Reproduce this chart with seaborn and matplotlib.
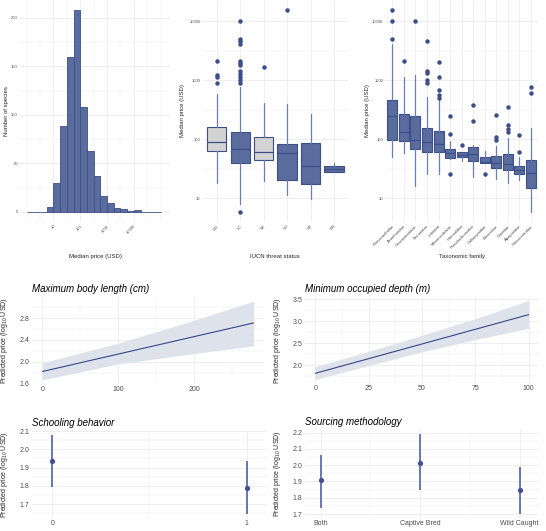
import numpy as np
import pandas as pd
import seaborn as sns
import matplotlib.pyplot as plt

# ---- top left: histogram of median price (log10 bins, width 0.25)
hist_edges = [0.0, 0.25, 0.5, 0.75, 1.0, 1.25, 1.5, 1.75, 2.0, 2.25, 2.5,
              2.75, 3.0, 3.25, 3.5, 3.75, 4.0, 4.25, 4.5, 4.75, 5.0]
hist_counts = [0, 0, 0, 5, 30, 89, 160, 208, 108, 63, 37, 16, 9, 4, 3, 1, 2, 0, 0, 0]

# ---- top middle: price by IUCN status (box stats, USD)
iucn_cats = ["DD", "LC", "NE", "VU", "NT", "EN"]
iucn_q1 = [64, 40, 44, 20.5, 17.3, 28.3]
iucn_med = [90, 69.5, 61, 59.5, 35.8, 31]
iucn_q3 = [160, 133, 108, 83, 88, 35.8]
iucn_lo = [18.5, 8.0, 19.7, 11.4, 9.9, 28.3]
iucn_hi = [587, 760, 407, 397, 265, 40]
iucn_out = [[2130, 1215, 1150, 890],
            [10000, 5080, 4700, 4130, 2150, 1940, 1820, 1440, 1280, 1120, 1014, 912, 5.9],
            [1706], [15560], [], []]
iucn_grey = ["DD", "NE"]

# ---- top right: price by taxonomic family
fam_cats = ["Pomacanthidae", "Acanthuridae", "Chaetodontidae", "Serranidae", "Labridae",
            "Monacanthidae", "Haemulidae", "Pseudochromidae", "Callionymidae", "Blenniidae",
            "Gobiidae", "Apogonidae", "Pomacentridae"]
fam_q1 = [97.5, 95, 69.5, 62, 60, 48.3, 50, 43, 39, 33, 30.6, 26.2, 15.1]
fam_med = [245, 135, 97.5, 90, 82, 59.5, 54, 56, 41, 40, 38.8, 30.2, 26.5]
fam_q3 = [470, 272, 245, 156, 140, 69.5, 60, 75, 51, 51.5, 55.7, 34.8, 44.6]
fam_lo = [50, 58.6, 16.2, 25.8, 25.8, 46, 43, 23, 39, 21, 18.5, 20.5, 5.9]
fam_hi = [4070, 1153, 1215, 515, 464, 95, 60, 81, 63, 77, 104, 49.5, 153]
fam_out = [[15600, 10000, 5080], [2130], [10000], [4700, 1460, 1350, 1014, 890],
           [2070, 1153, 686, 564, 508], [248, 123, 25.8], [79], [377, 202], [25.5],
           [255, 111, 97.5], [353, 177, 152, 135], [120, 61.8], [760, 602]]

# ---- bottom: model predictions (log10 USD)
length_x = [0, 278]
length_fit = [1.82, 2.71]
length_band_x = [0, 100, 200, 278]
length_band_lo = [1.667, 1.96, 2.15, 2.29]
length_band_hi = [1.98, 2.34, 2.76, 3.11]

depth_x = [0, 100]
depth_fit = [1.81, 3.15]
depth_band_x = [0, 25, 50, 75, 100]
depth_band_lo = [1.67, 1.99, 2.30, 2.58, 2.84]
depth_band_hi = [1.96, 2.31, 2.68, 3.06, 3.47]

school_x = [0, 1]
school_est = [1.936, 1.789]
school_lo = [1.791, 1.645]
school_hi = [2.076, 1.936]

source_cats = ["Both", "Captive Bred", "Wild Caught"]
source_est = [1.906, 2.014, 1.847]
source_lo = [1.74, 1.85, 1.70]
source_hi = [2.065, 2.19, 1.99]

# ---- style
sns.set_theme(style="whitegrid")
plt.rcParams['font.family'] = ['Liberation Sans', 'DejaVu Sans']
plt.rcParams['mathtext.fontset'] = 'custom'
plt.rcParams['mathtext.rm'] = 'Liberation Sans'
plt.rcParams['mathtext.default'] = 'regular'

FILL = "#5A6C9E"
EDGE = "#3C4F88"
WHISK = "#6B7EB2"
LINE = "#34488A"
BAND = "#DDE2EB"
GRID = "#EBEBEB"
TICKC = "#4D4D4D"

W, H = 546, 531
fig = plt.figure(figsize=(W / 100, H / 100), dpi=100)


def add_ax(left, top, right, bottom):
    return fig.add_axes([left / W, 1 - bottom / H, (right - left) / W, (bottom - top) / H])


def minimal(ax, tick_size):
    sns.despine(ax=ax, left=True, bottom=True)
    ax.set_facecolor("white")
    ax.grid(which="major", color=GRID, lw=0.6)
    ax.grid(which="minor", color=GRID, lw=0.3)
    ax.tick_params(which="both", length=0, labelsize=tick_size, colors=TICKC, pad=1.5)


# ---- histogram
ax1 = add_ax(20, 0, 170, 222)
sns.histplot(x=[(a + b) / 2 for a, b in zip(hist_edges[:-1], hist_edges[1:])],
             weights=hist_counts, bins=hist_edges, color=FILL, edgecolor=EDGE,
             linewidth=0.6, alpha=1, ax=ax1)
ax1.set_xlim(-0.25, 5.35)
ax1.set_ylim(-10.4, 218.4)
ax1.set_xticks([1, 2, 3, 4])
ax1.set_xticklabels(["10", "100", "1000", "10000"], rotation=45, ha="right",
                    rotation_mode="anchor")
ax1.set_xticks([0, 0.5, 1.5, 2.5, 3.5, 4.5, 5.0], minor=True)
ax1.set_yticks([0, 50, 100, 150, 200])
ax1.set_yticks([25, 75, 125, 175], minor=True)
minimal(ax1, 3)
ax1.set_xlabel("Median price (USD)", fontsize=4.3)
ax1.set_ylabel("Number of species", fontsize=4.3)
ax1.xaxis.set_label_coords(0.5, -0.145)
ax1.yaxis.set_label_coords(-0.075, 0.5)


def box_panel(ax, cats, q1, med, q3, lo, hi, out, width, grey=()):
    stats = []
    for i, c in enumerate(cats):
        stats.append(dict(label=c, q1=q1[i], med=med[i], q3=q3[i],
                          whislo=lo[i], whishi=hi[i], fliers=out[i]))
    bp = ax.bxp(stats, positions=list(range(len(cats))), widths=width,
                patch_artist=True, showcaps=False,
                boxprops=dict(edgecolor=EDGE, linewidth=0.8),
                medianprops=dict(color=EDGE, linewidth=0.9),
                whiskerprops=dict(color=WHISK, linewidth=0.9),
                flierprops=dict(marker="o", markerfacecolor=EDGE, markeredgecolor=EDGE,
                                markersize=2.2))
    for patch, c in zip(bp["boxes"], cats):
        patch.set_facecolor("#D3D3D3" if c in grey else FILL)
    ax.set_yscale("log")
    ax.set_ylim(10 ** 0.6, 10 ** 4.36)
    ax.set_xlim(-0.6, len(cats) - 0.4)
    ax.set_yticks([10, 100, 1000, 10000])
    ax.set_yticklabels(["10", "100", "1000", "10000"])
    ax.set_yticks([10 ** 1.5, 10 ** 2.5, 10 ** 3.5], minor=True)
    ax.set_yticklabels([], minor=True)
    ax.set_xticks(list(range(len(cats))))
    ax.set_xticklabels(cats, rotation=45, ha="right", rotation_mode="anchor")
    minimal(ax, 3)
    ax.set_ylabel("Median price (USD)", fontsize=4.3)


ax2 = add_ax(202.6, 0, 348.1, 222)
box_panel(ax2, iucn_cats, iucn_q1, iucn_med, iucn_q3, iucn_lo, iucn_hi, iucn_out, 0.82,
          grey=iucn_grey)
ax2.set_xlabel("IUCN threat status", fontsize=4.3)
ax2.xaxis.set_label_coords(0.5, -0.145)
ax2.yaxis.set_label_coords(-0.12, 0.5)

ax3 = add_ax(385.4, 0, 537.9, 222)
box_panel(ax3, fam_cats, fam_q1, fam_med, fam_q3, fam_lo, fam_hi, fam_out, 0.86)
ax3.tick_params(axis="x", labelsize=3)
ax3.set_xlabel("Taxonomic family", fontsize=4.3)
ax3.xaxis.set_label_coords(0.5, -0.145)
ax3.yaxis.set_label_coords(-0.10, 0.5)

YLAB = "Predicted price (log$_{10}$ USD)"


def title(ax, text):
    ax.set_title(text, loc="left", fontsize=7, fontstyle="italic", pad=4, color="black")


# ---- body length
ax4 = add_ax(31.8, 297.2, 263.8, 383.8)
ax4.fill_between(length_band_x, length_band_lo, length_band_hi, color=BAND, lw=0)
sns.lineplot(x=length_x, y=length_fit, color=LINE, lw=0.8, ax=ax4)
ax4.set_xlim(-13.9, 291.5)
ax4.set_ylim(1.595, 3.182)
ax4.set_xticks([0, 100, 200])
ax4.set_xticks([50, 150, 250], minor=True)
ax4.set_yticks([1.6, 2.0, 2.4, 2.8])
ax4.set_yticklabels(["1.6", "2.0", "2.4", "2.8"])
ax4.set_yticks([1.8, 2.2, 2.6, 3.0], minor=True)
minimal(ax4, 5)
title(ax4, "Maximum body length (cm)")
ax4.set_ylabel(YLAB, fontsize=5)
ax4.yaxis.set_label_coords(-0.093, 0.5)

# ---- depth
ax5 = add_ax(304.6, 297.1, 539.4, 383.4)
ax5.fill_between(depth_band_x, depth_band_lo, depth_band_hi, color=BAND, lw=0)
sns.lineplot(x=depth_x, y=depth_fit, color=LINE, lw=0.8, ax=ax5)
ax5.set_xlim(-5, 105)
ax5.set_ylim(1.58, 3.55)
ax5.set_xticks([0, 25, 50, 75, 100])
ax5.set_xticks([12.5, 37.5, 62.5, 87.5], minor=True)
ax5.set_yticks([2.0, 2.5, 3.0, 3.5])
ax5.set_yticklabels(["2.0", "2.5", "3.0", "3.5"])
ax5.set_yticks([1.75, 2.25, 2.75, 3.25], minor=True)
minimal(ax5, 5)
title(ax5, "Minimum occupied depth (m)")
ax5.set_ylabel(YLAB, fontsize=5)
ax5.yaxis.set_label_coords(-0.092, 0.5)

# ---- schooling
ax6 = add_ax(31.8, 431.1, 266.8, 518.1)
ax6.vlines(school_x, school_lo, school_hi, color="#3F55A0", lw=1.1)
sns.scatterplot(x=school_x, y=school_est, color=EDGE, s=14, edgecolor=EDGE, lw=0, ax=ax6)
ax6.set_xlim(-0.106, 1.104)
ax6.set_ylim(1.623, 2.098)
ax6.set_xticks([0, 1])
ax6.set_xticks([0.5], minor=True)
ax6.set_yticks([1.7, 1.8, 1.9, 2.0, 2.1])
ax6.set_yticklabels(["1.7", "1.8", "1.9", "2.0", "2.1"])
ax6.set_yticks([1.65, 1.75, 1.85, 1.95, 2.05], minor=True)
minimal(ax6, 5)
title(ax6, "Schooling behavior")
ax6.set_ylabel(YLAB, fontsize=5)
ax6.yaxis.set_label_coords(-0.093, 0.5)

# ---- sourcing
ax7 = add_ax(304.6, 430.3, 539.4, 518.0)
ax7.vlines(source_cats, source_lo, source_hi, color="#3F55A0", lw=1.1)
sns.scatterplot(x=source_cats, y=source_est, color=EDGE, s=14, edgecolor=EDGE, lw=0, ax=ax7)
ax7.set_xlim(-0.162, 2.198)
ax7.set_ylim(1.6755, 2.2145)
ax7.set_xticks([0.5, 1.5], minor=True)
ax7.set_yticks([1.7, 1.8, 1.9, 2.0, 2.1, 2.2])
ax7.set_yticklabels(["1.7", "1.8", "1.9", "2.0", "2.1", "2.2"])
ax7.set_yticks([1.75, 1.85, 1.95, 2.05, 2.15], minor=True)
minimal(ax7, 5)
title(ax7, "Sourcing methodology")
ax7.set_xlabel("")
ax7.set_ylabel(YLAB, fontsize=5)
ax7.yaxis.set_label_coords(-0.092, 0.5)

fig.savefig("out.png", dpi=100)
